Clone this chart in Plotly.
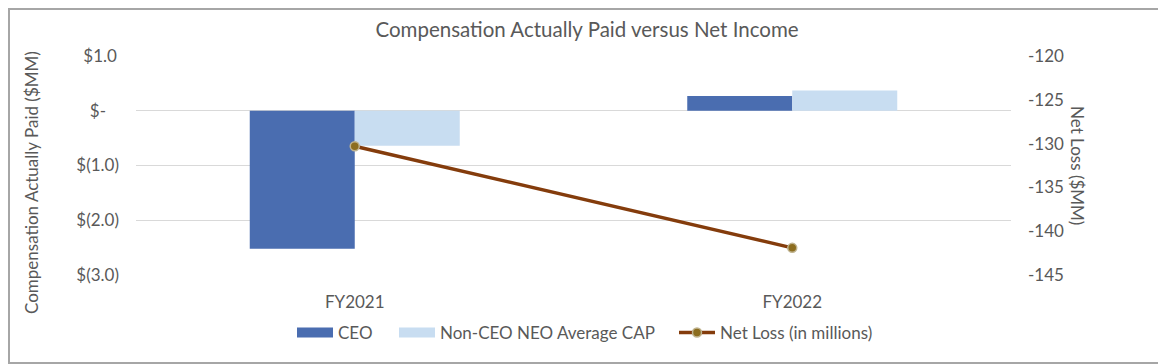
import plotly.graph_objects as go

categories = ["FY2021", "FY2022"]
ceo_cap = [-2.52, 0.27]
non_ceo_cap = [-0.64, 0.37]
net_loss = [-130.3, -141.9]

left_tickvals = [1, 0, -1, -2, -3]
left_ticktext = ["$1.0\u2009", "$-\u00a0\u00a0\u00a0", "$(1.0)", "$(2.0)", "$(3.0)"]
right_tickvals = [-120, -125, -130, -135, -140, -145]
right_ticktext = ["-120", "-125", "-130", "-135", "-140", "-145"]

FONT = "Lato, Carlito, 'Open Sans', sans-serif"
GRAY = "#595959"
CEO_COLOR = "#4A6DB0"
NEO_COLOR = "#C8DDF1"

# page renders the figure with an 8px body offset -> shift geometry accordingly
OFF = 8
W, H = 1166 - OFF, 364 - OFF
L, T, R, B = 136 - OFF, 56 - OFF, 155, 89
PW, PH = W - L - R, H - T - B


def px(page_x):
    return (page_x - OFF - L) / PW


def py(page_y):
    return (T + PH - (page_y - OFF)) / PH


fig = go.Figure()
fig.add_trace(go.Bar(x=categories, y=ceo_cap, name="CEO", showlegend=False,
                     marker=dict(color=CEO_COLOR, line=dict(width=0))))
fig.add_trace(go.Bar(x=categories, y=non_ceo_cap, name="Non-CEO NEO Average CAP",
                     showlegend=False,
                     marker=dict(color=NEO_COLOR, line=dict(width=0))))
# legend entries with wide rectangular swatches
fig.add_trace(go.Scatter(x=[None], y=[None], name="CEO", mode="lines",
                         line=dict(color=CEO_COLOR, width=11), legend="legend"))
fig.add_trace(go.Scatter(x=[None], y=[None], name="Non-CEO NEO Average CAP",
                         mode="lines", line=dict(color=NEO_COLOR, width=11),
                         legend="legend2"))
fig.add_trace(go.Scatter(x=categories, y=net_loss, name="Net Loss (in millions)",
                         yaxis="y2", mode="lines+markers", legend="legend3",
                         line=dict(color="#843C0C", width=3.5),
                         marker=dict(color="#8C6D1F", size=9,
                                     line=dict(color="#BFB38F", width=1.5))))

legend_common = dict(orientation="h", xanchor="left", y=py(333), yanchor="middle",
                     font=dict(size=17, color=GRAY), itemwidth=36,
                     bgcolor="rgba(0,0,0,0)")

fig.update_layout(
    width=W, height=H,
    margin=dict(l=L, r=R, t=T, b=B, autoexpand=False),
    paper_bgcolor="white", plot_bgcolor="white",
    font=dict(family=FONT, color=GRAY, size=17),
    barmode="group", bargap=0.52, bargroupgap=0,
    title=dict(text="Compensation Actually Paid versus Net Income",
               x=0.5, xanchor="center", y=1 - (30 - OFF) / H, yanchor="middle",
               font=dict(size=20.5, color=GRAY, family=FONT)),
    xaxis=dict(showgrid=False, showline=False, ticks="",
               tickfont=dict(size=17, color=GRAY), ticklabelstandoff=15),
    yaxis=dict(range=[-3, 1], tickvals=left_tickvals, ticktext=left_ticktext,
               showgrid=True, gridcolor="#D9D9D9", gridwidth=1,
               zeroline=False, showline=False, ticks="",
               tickfont=dict(size=17, color=GRAY), ticklabelstandoff=16),
    yaxis2=dict(range=[-145, -120], tickvals=right_tickvals, ticktext=right_ticktext,
                overlaying="y", side="right", showgrid=False,
                zeroline=False, showline=False, ticks="",
                tickfont=dict(size=17, color=GRAY), ticklabelstandoff=16),
    legend=dict(x=px(292), **legend_common),
    legend2=dict(x=px(394), **legend_common),
    legend3=dict(x=px(674), **legend_common),
    showlegend=True,
)

fig.add_annotation(text="Compensation Actually Paid ($MM)", textangle=-90,
                   xref="paper", yref="paper", x=px(31), y=py(183),
                   xanchor="center", yanchor="middle", showarrow=False,
                   font=dict(size=17, color=GRAY, family=FONT))
fig.add_annotation(text="Net Loss ($MM)", textangle=90,
                   xref="paper", yref="paper", x=px(1078), y=py(165),
                   xanchor="center", yanchor="middle", showarrow=False,
                   font=dict(size=17, color=GRAY, family=FONT))

# outer chart border
fig.add_shape(type="rect", xref="paper", yref="paper",
              x0=-(L - 1) / PW, x1=1 + (R - 1) / PW,
              y0=-(B - 1) / PH, y1=1 + (T - 1) / PH,
              line=dict(color="#A6A6A6", width=2), fillcolor="rgba(0,0,0,0)",
              layer="below")

fig.write_html("out.html")
